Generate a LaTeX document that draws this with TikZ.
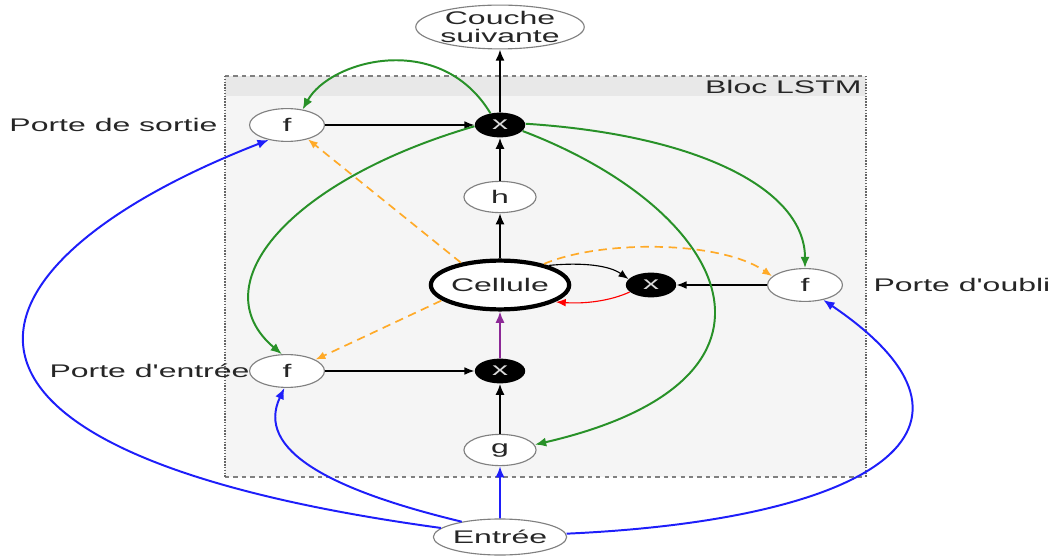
\documentclass[tikz,border=0pt]{standalone}
\usepackage{fontspec}
\newfontfamily\labfont{Liberation Sans}
\usetikzlibrary{shapes.geometric, arrows.meta}
\definecolor{gategreen}{RGB}{40,145,40}
\definecolor{inblue}{RGB}{30,30,250}
\definecolor{peepor}{RGB}{255,170,40}
\definecolor{cellpurple}{RGB}{140,40,150}

\begin{document}
\begin{tikzpicture}[x=0.025cm, y=-0.025cm,
    every node/.style={xscale=1.75, font=\labfont\fontsize{13}{15}\selectfont, text=black!85},
    unit/.style={ellipse, draw=black!50, line width=0.8pt, fill=white, inner sep=0pt},
    gate/.style={unit, minimum width=1.07cm, minimum height=0.82cm},
    act/.style={unit, minimum width=1.03cm, minimum height=0.78cm},
    mult/.style={ellipse, fill=black, text=white!85!black, inner sep=0pt, minimum width=0.72cm, minimum height=0.62cm},
    lab/.style={inner sep=0pt},
    link/.style={-{Latex[length=8pt, width=6.5pt]}, line width=1.4pt},
    thinlink/.style={-{Latex[length=7pt, width=5.5pt]}, line width=0.8pt},
    peep/.style={thinlink, peepor, line width=1.2pt, dash pattern=on 6pt off 4pt}]
    \useasboundingbox (0,0) rectangle (1052,557);
    % the LSTM block
    \fill[black!4] (225,76) rectangle (866,477);
    \fill[black!9] (225,76) rectangle (866,96);
    \draw[black!50, dashed, line width=0.8pt] (225,76) -- (866,76) (225,477) -- (866,477);
    \draw[black!60, densely dotted, line width=1pt] (225,76) -- (225,477) (866,76) -- (866,477);
    \node[lab, anchor=east] (bloc) at (862,87) {Bloc LSTM};
    % units
    \node[unit, minimum width=2.36cm, minimum height=1.05cm, align=center, font=\labfont\fontsize{13}{12.5}\selectfont] (next) at (500,27) {Couche\\suivante};
    \node[mult] (xo) at (500,125) {x};
    \node[gate] (fo) at (287,125) {f};
    \node[act] (h) at (500,197) {h};
    \node[unit, draw=black, line width=3pt, minimum width=1.57cm, minimum height=1.22cm] (cell) at (500,285) {Cellule};
    \node[mult] (xf) at (651,285) {x};
    \node[gate] (ff) at (805,285) {f};
    \node[gate] (fi) at (287,371) {f};
    \node[mult] (xi) at (500,371) {x};
    \node[act] (g) at (500,450) {g};
    \node[unit, minimum width=1.57cm, minimum height=0.9cm] (in) at (500,537) {Entrée};
    \node[lab, anchor=east] (lo) at (218,125) {Porte de sortie};
    \node[lab, anchor=east] (li) at (250,371) {Porte d'entrée};
    \node[lab, anchor=west] (lf) at (873,285) {Porte d'oubli};
    % straight connections
    \draw[link] (xo) -- (next);
    \draw[link] (h) -- (xo);
    \draw[link] (cell) -- (h);
    \draw[link] (g) -- (xi);
    \draw[link, cellpurple] (xi) -- (cell);
    \draw[thinlink] (fo) -- (xo);
    \draw[thinlink] (fi) -- (xi);
    \draw[thinlink] (ff) -- (xf);
    \draw[thinlink] (cell.35) .. controls (585,262) and (610,266) .. (xf.155);
    \draw[thinlink, red] (xf.-150) .. controls (610,301) and (585,304) .. (cell.-28);
    % output gate feedback
    \draw[link, gategreen] (xo.115) .. controls (440,30) and (330,60) .. (fo.60);
    \draw[link, gategreen] (xo.185) .. controls (290,180) and (200,285) .. (fi.100);
    \draw[link, gategreen] (xo.5) .. controls (700,135) and (805,190) .. (ff.north);
    \draw[link, gategreen] (xo.-25) .. controls (730,210) and (815,380) .. (g.15);
    % input
    \draw[link, inblue] (in.165) .. controls (-130,450) and (-40,260) .. (fo.-125);
    \draw[link, inblue] (in.145) .. controls (330,490) and (255,450) .. (fi.-95);
    \draw[link, inblue] (in.5) .. controls (870,520) and (1015,430) .. (ff.-55);
    \draw[link, inblue] (in) -- (g);
    % peepholes
    \draw[peep] (cell.135) -- (fo.-50);
    \draw[peep] (cell.205) -- (fi.35);
    \draw[peep] (cell.40) .. controls (600,240) and (720,240) .. (ff.155);
\end{tikzpicture}
\end{document}
